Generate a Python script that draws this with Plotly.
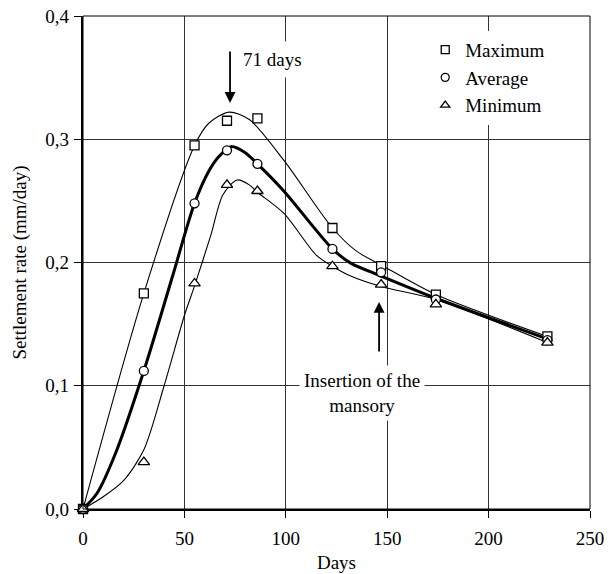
import plotly.graph_objects as go

# Measured settlement rates (mm/day) at each survey day
days = [0, 30, 55, 71, 86, 123, 147, 174, 229]
max_rate = [0, 0.175, 0.295, 0.315, 0.317, 0.228, 0.197, 0.174, 0.140]
avg_rate = [0, 0.112, 0.248, 0.291, 0.280, 0.211, 0.192, 0.170, 0.137]
min_rate = [0, 0.038, 0.183, 0.263, 0.258, 0.197, 0.182, 0.166, 0.135]

# Smoothed trend curves
max_curve_days = [0, 30, 55, 62, 72, 82, 99, 123, 135, 147, 174, 229]
max_curve = [0, 0.175, 0.295, 0.313, 0.322, 0.316, 0.283, 0.228, 0.209, 0.198, 0.174, 0.140]

avg_curve_days = [0, 7, 16, 30, 44, 55, 62, 67, 73, 80, 86, 99, 123, 132, 147, 174, 229]
avg_curve = [0, 0.013, 0.045, 0.112, 0.188, 0.248, 0.274, 0.286, 0.294, 0.289, 0.280, 0.258,
             0.211, 0.1995, 0.189, 0.171, 0.138]

min_curve_days = [0, 10, 20, 30, 40, 50, 55, 63, 69, 76, 82, 86, 99, 115, 123, 132, 147, 174, 229]
min_curve = [0, 0.010, 0.023, 0.048, 0.100, 0.157, 0.181, 0.222, 0.255, 0.267, 0.263, 0.257,
             0.240, 0.206, 0.197, 0.189, 0.1805, 0.170, 0.135]

x_ticks = [0, 50, 100, 150, 200, 250]
x_tick_text = ["0", "50", "100", "150", "200", "250"]
y_ticks = [0.0, 0.1, 0.2, 0.3, 0.4]
y_tick_text = ["0,0", "0,1", "0,2", "0,3", "0,4"]

series_names = ["Maximum", "Average", "Minimum"]

FONT = "Liberation Serif, Times New Roman, serif"
FS = 19

fig = go.Figure()

# trend curves
curve_style = dict(color="black", width=1.1, shape="spline", smoothing=0.8)
fig.add_trace(go.Scatter(x=max_curve_days, y=max_curve, mode="lines", line=curve_style, showlegend=False, hoverinfo="skip"))
fig.add_trace(go.Scatter(x=min_curve_days, y=min_curve, mode="lines", line=curve_style, showlegend=False, hoverinfo="skip"))
fig.add_trace(go.Scatter(x=avg_curve_days, y=avg_curve, mode="lines",
                         line=dict(color="black", width=3, shape="spline", smoothing=0.8),
                         showlegend=False, hoverinfo="skip"))

# measured points
symbols = ["square", "circle", "triangle-up"]
sizes = [9, 9, 10]
for name, vals, sym, sz in zip(series_names, [max_rate, avg_rate, min_rate], symbols, sizes):
    fig.add_trace(go.Scatter(
        x=days, y=vals, mode="markers", name=name, showlegend=False, cliponaxis=False,
        marker=dict(symbol=sym, size=sz, color="white", line=dict(color="black", width=1.3)),
    ))

# legend entries (smaller symbols)
for name, sym in zip(series_names, symbols):
    fig.add_trace(go.Scatter(
        x=[None], y=[None], mode="markers", name=name,
        marker=dict(symbol=sym, size=8, color="white", line=dict(color="black", width=1.3)),
    ))

# annotations with arrows
fig.add_annotation(x=72.5, y=0.3295, ax=72.5, ay=0.3725, xref="x", yref="y", axref="x", ayref="y",
                   text="", showarrow=True, arrowhead=2, arrowsize=1.2, arrowwidth=1.8, arrowcolor="black")
fig.add_annotation(x=75.0, y=0.365, xref="x", yref="y", text="71 days", showarrow=False,
                   xanchor="left", yanchor="middle", bgcolor="white", borderpad=7,
                   font=dict(family=FONT, size=FS, color="black"))
fig.add_annotation(x=146, y=0.168, ax=146, ay=0.1265, xref="x", yref="y", axref="x", ayref="y",
                   text="", showarrow=True, arrowhead=2, arrowsize=1.2, arrowwidth=1.8, arrowcolor="black")
fig.add_annotation(x=137.5, y=0.094, xref="x", yref="y", text="Insertion of the<br>mansory", showarrow=False,
                   xanchor="center", yanchor="middle", bgcolor="white", borderpad=4,
                   font=dict(family=FONT, size=FS, color="black"))

# thin frame around the plot area
fig.add_shape(type="rect", xref="paper", yref="paper", x0=0, x1=1, y0=0, y1=1,
              line=dict(color="black", width=1), layer="above")

axis_common = dict(
    showline=True, linecolor="black", linewidth=2.2, mirror=False,
    showgrid=True, gridcolor="#333", gridwidth=1, zeroline=False,
    ticks="outside", ticklen=7, tickwidth=1.3, tickcolor="black",
    tickfont=dict(family=FONT, size=FS, color="black"), layer="below traces",
    automargin=False,
)

fig.update_xaxes(range=[0, 250], tickvals=x_ticks, ticktext=x_tick_text,
                 title=dict(text="Days", font=dict(family=FONT, size=FS, color="black"), standoff=8),
                 ticklabelstandoff=4, **axis_common)
fig.update_yaxes(range=[0, 0.4], tickvals=y_ticks, ticktext=y_tick_text,
                 title=dict(text="Settlement rate (mm/day)", font=dict(family=FONT, size=FS, color="black"), standoff=14),
                 ticklabelstandoff=1, **axis_common)

fig.update_layout(
    width=613, height=574,
    margin=dict(l=83, r=23, t=16, b=65),
    paper_bgcolor="white", plot_bgcolor="white",
    font=dict(family=FONT, size=FS, color="black"),
    legend=dict(x=0.675, y=0.97, xanchor="left", yanchor="top", bgcolor="white",
                borderwidth=0, font=dict(family=FONT, size=FS, color="black"),
                itemwidth=30, tracegroupgap=0),
    showlegend=True,
)

fig.write_html("out.html")
